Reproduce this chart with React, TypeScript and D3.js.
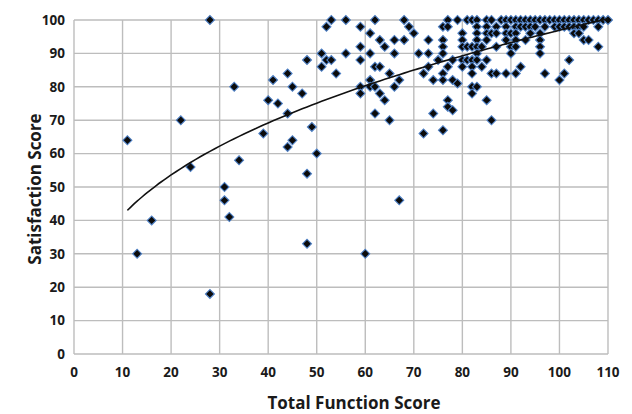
import { useEffect, useRef } from "react";
import * as d3 from "d3";

// Total function score vs satisfaction score, one [x, y] pair per patient
const lowScorers: [number, number][] = [
  [11, 64], [13, 30], [16, 40], [22, 70], [24, 56], [28, 100], [28, 18],
  [31, 50], [31, 46], [32, 41], [33, 80], [34, 58], [39, 66], [40, 76],
  [41, 82], [42, 75], [44, 84], [44, 72], [44, 62], [45, 64], [45, 80],
  [47, 78], [48, 88], [48, 54], [48, 33], [49, 68], [50, 60],
];

const midScorers: [number, number][] = [
  [51, 90], [51, 86], [52, 98], [52, 88], [53, 100], [53, 88], [54, 84],
  [56, 100], [56, 90], [59, 98], [59, 92], [59, 88], [59, 80], [59, 78],
  [60, 30], [61, 96], [61, 90], [61, 82], [61, 80], [62, 100], [62, 86],
  [62, 80], [62, 72], [63, 94], [63, 86], [63, 78], [64, 92], [64, 76],
  [65, 84], [65, 70], [66, 94], [66, 90], [66, 80], [67, 82], [67, 46],
  [68, 100], [68, 94], [69, 98], [70, 96], [71, 90], [72, 84], [72, 66],
  [73, 94], [73, 90], [73, 86], [74, 82], [74, 72],
];

const highScorers: [number, number][] = [
  [77, 100], [79, 100], [81, 100], [82, 100], [83, 100], [85, 100], [86, 100],
  [88, 100], [89, 100], [90, 100], [91, 100], [92, 100], [93, 100], [94, 100],
  [95, 100], [96, 100], [97, 100], [98, 100], [99, 100], [100, 100], [101, 100],
  [102, 100], [103, 100], [104, 100], [105, 100], [106, 100], [107, 100],
  [108, 100], [109, 100], [110, 100],
  [76, 98], [77, 98], [83, 98], [85, 98], [87, 98], [89, 98], [91, 98],
  [92, 98], [93, 98], [94, 98], [95, 98], [97, 98], [99, 98], [100, 98],
  [101, 98], [102, 98], [103, 98], [104, 98], [105, 98], [108, 98],
  [80, 96], [83, 96], [85, 96], [86, 96], [87, 96], [89, 96], [90, 96],
  [91, 96], [94, 96], [96, 96], [103, 96], [104, 96],
  [76, 94], [80, 94], [83, 94], [85, 94], [89, 94], [91, 94], [93, 94],
  [96, 94], [105, 94], [106, 94],
  [76, 92], [80, 92], [81, 92], [82, 92], [83, 92], [84, 92], [87, 92],
  [90, 92], [91, 92], [96, 92], [108, 92],
  [76, 90], [83, 90], [90, 90], [96, 90],
  [75, 88], [78, 88], [80, 88], [81, 88], [82, 88], [83, 88], [85, 88], [102, 88],
  [77, 86], [80, 86], [82, 86], [84, 86], [92, 86],
  [76, 84], [82, 84], [86, 84], [87, 84], [89, 84], [91, 84], [97, 84], [101, 84],
  [76, 82], [78, 82], [100, 82], [79, 81], [82, 80], [83, 80], [82, 78],
  [77, 76], [85, 76], [77, 74], [78, 73], [86, 70], [76, 67],
];

const xTicks = [0, 10, 20, 30, 40, 50, 60, 70, 80, 90, 100, 110];
const yTicks = [0, 10, 20, 30, 40, 50, 60, 70, 80, 90, 100];

// power trend line y = a * x^b, fitted over the observed range
const trendA = 17.8;
const trendB = 0.368;
const trendFrom = 11;
const trendTo = 110;

export default function App() {
  const ref = useRef<SVGSVGElement>(null);

  useEffect(() => {
    const width = 632;
    const height = 414;
    const marginLeft = 74;
    const marginRight = 24;
    const marginTop = 20;
    const marginBottom = 60;
    const font = "'Open Sans', 'DejaVu Sans', sans-serif";

    const svg = d3.select(ref.current);
    svg.selectAll("*").remove();

    const x = d3.scaleLinear().domain([0, 110]).range([marginLeft, width - marginRight]);
    const y = d3.scaleLinear().domain([0, 100]).range([height - marginBottom, marginTop]);

    // grid
    svg.append("g")
      .attr("stroke", "#bdbdbd")
      .attr("stroke-width", 1.4)
      .selectAll("line")
      .data(yTicks)
      .join("line")
        .attr("x1", x(0))
        .attr("x2", x(110))
        .attr("y1", d => y(d))
        .attr("y2", d => y(d));

    svg.append("g")
      .attr("stroke", "#bdbdbd")
      .attr("stroke-width", 1.4)
      .selectAll("line")
      .data(xTicks)
      .join("line")
        .attr("x1", d => x(d))
        .attr("x2", d => x(d))
        .attr("y1", y(0))
        .attr("y2", y(100));

    // tick labels
    svg.append("g")
      .attr("font-family", font)
      .attr("font-size", 13.5)
      .attr("font-weight", 700)
      .attr("fill", "#1a1a1a")
      .attr("text-anchor", "end")
      .selectAll("text")
      .data(yTicks)
      .join("text")
        .attr("x", marginLeft - 9)
        .attr("y", d => y(d))
        .attr("dy", "0.36em")
        .text(d => d);

    svg.append("g")
      .attr("font-family", font)
      .attr("font-size", 13.5)
      .attr("font-weight", 700)
      .attr("fill", "#1a1a1a")
      .attr("text-anchor", "middle")
      .selectAll("text")
      .data(xTicks)
      .join("text")
        .attr("x", d => x(d))
        .attr("y", y(0) + 23)
        .text(d => d);

    // axis titles
    svg.append("text")
      .attr("font-family", font)
      .attr("font-size", 17)
      .attr("font-weight", 700)
      .attr("fill", "#1a1a1a")
      .attr("text-anchor", "middle")
      .attr("x", 354)
      .attr("y", 409)
      .text("Total Function Score");

    svg.append("text")
      .attr("font-family", font)
      .attr("font-size", 17)
      .attr("font-weight", 700)
      .attr("fill", "#1a1a1a")
      .attr("text-anchor", "middle")
      .attr("transform", `translate(41,189) rotate(-90)`)
      .text("Satisfaction Score");

    // points
    const points = [...lowScorers, ...midScorers, ...highScorers];
    const diamond = d3.symbol(d3.symbolSquare, 40);
    svg.append("g")
      .attr("fill", "#0b0b0b")
      .attr("stroke", "#4f81c6")
      .attr("stroke-width", 1.1)
      .selectAll("path")
      .data(points)
      .join("path")
        .attr("transform", d => `translate(${x(d[0])},${y(d[1])}) rotate(45)`)
        .attr("d", diamond);

    // trend line
    const trend = d3.range(trendFrom, trendTo + 0.5, 1).map(v => [v, trendA * Math.pow(v, trendB)] as [number, number]);
    svg.append("path")
      .datum(trend)
      .attr("fill", "none")
      .attr("stroke", "#111")
      .attr("stroke-width", 1.6)
      .attr("d", d3.line<[number, number]>().x(d => x(d[0])).y(d => y(d[1])).curve(d3.curveMonotoneX));
  }, []);

  return (
    <svg
      ref={ref}
      width={632}
      height={414}
      style={{ position: "absolute", left: 0, top: 0, background: "#fff" }}
    />
  );
}
